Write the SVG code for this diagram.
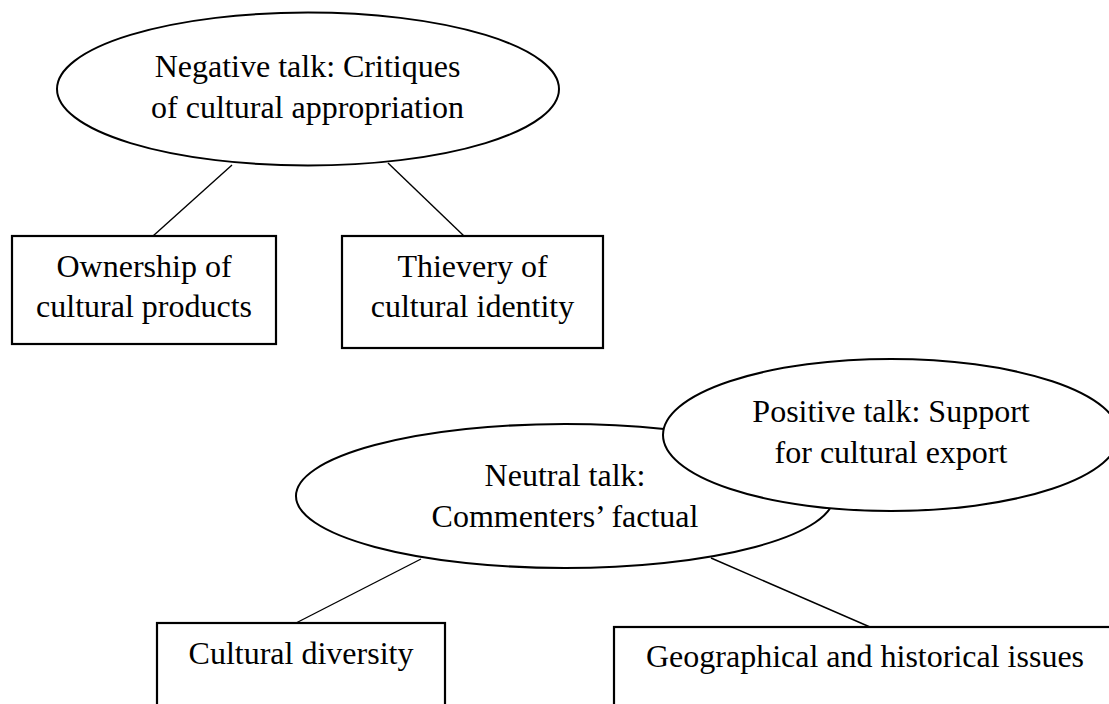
<svg xmlns="http://www.w3.org/2000/svg" width="1109" height="704" viewBox="0 0 1109 704">
<style>
.shape{fill:#fff;stroke:#000;stroke-width:2}
.box{fill:#fff;stroke:#000;stroke-width:2.2}
.conn{stroke:#000;stroke-width:1.4;fill:none}
text{font-family:"Liberation Serif","Times New Roman",serif;font-size:32px;fill:#000;text-anchor:middle}
</style>
<rect width="1109" height="704" fill="#fff"/>
<g id="connectors">
<line class="conn" x1="232" y1="165" x2="153" y2="236"/>
<line class="conn" x1="388" y1="163" x2="464" y2="236"/>
<line class="conn" x1="421" y1="559" x2="296" y2="623"/>
<line class="conn" x1="711" y1="558" x2="870" y2="627"/>
</g>
<g id="negative">
<ellipse class="shape" cx="308" cy="89" rx="251" ry="76.5"/>
<text x="307.5" y="77">Negative talk: Critiques</text>
<text x="307.5" y="117.5">of cultural appropriation</text>
</g>
<g id="ownership">
<rect class="box" x="12" y="236" width="264" height="108"/>
<text x="144" y="277">Ownership of</text>
<text x="144" y="317">cultural products</text>
</g>
<g id="thievery">
<rect class="box" x="342" y="236" width="261" height="112"/>
<text x="472.5" y="277">Thievery of</text>
<text x="472.5" y="317">cultural identity</text>
</g>
<g id="neutral">
<ellipse class="shape" cx="565" cy="496" rx="269" ry="72"/>
<text x="565" y="486">Neutral talk:</text>
<text x="565" y="527">Commenters’ factual</text>
</g>
<g id="positive">
<ellipse class="shape" cx="891" cy="435" rx="228" ry="76"/>
<text x="891" y="422">Positive talk: Support</text>
<text x="891" y="463">for cultural export</text>
</g>
<g id="diversity">
<rect class="box" x="157" y="623" width="288" height="100"/>
<text x="301" y="664">Cultural diversity</text>
</g>
<g id="geographical">
<rect class="box" x="614" y="627" width="502" height="100"/>
<text x="865" y="667">Geographical and historical issues</text>
</g>
</svg>
